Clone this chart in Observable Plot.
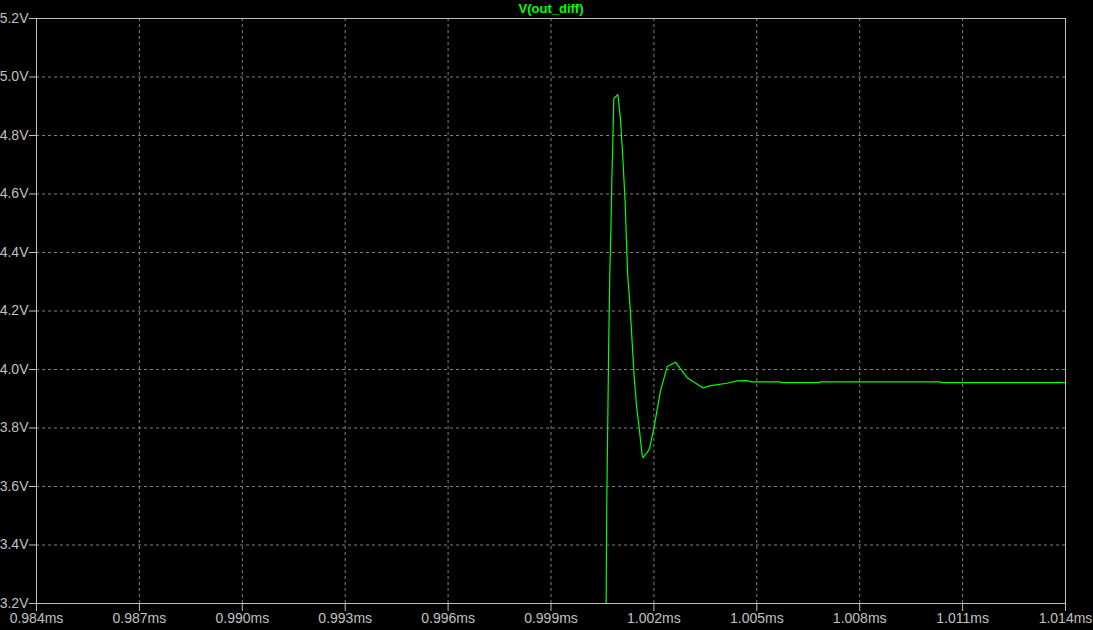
<!DOCTYPE html>
<html>
<head>
<meta charset="utf-8">
<script src="https://cdn.jsdelivr.net/npm/d3@7"></script>
<script src="https://cdn.jsdelivr.net/npm/@observablehq/plot@0.6"></script>
<style>
  html, body { margin: 0; padding: 0; background: #000; }
  #chart { width: 1093px; height: 630px; }
</style>
</head>
<body>
<div id="chart"></div>
<script>
// Time (ms) and voltage (V)
const timeMs = [
  0.984, 1.00058, 1.000585, 1.000627, 1.000656, 1.000685, 1.000715, 1.000744,
  1.000773, 1.000802, 1.000831, 1.000948, 1.000969, 1.001028, 1.001094,
  1.001164, 1.001231, 1.001309, 1.001368, 1.001426, 1.001493, 1.001572,
  1.001659, 1.001683, 1.001843, 1.001881, 1.001998, 1.002193, 1.002388,
  1.002630, 1.002776, 1.002971, 1.003164, 1.003438, 1.003651, 1.004137,
  1.004429, 1.004720, 1.004817, 1.005691, 1.005700, 1.006828, 1.006840,
  1.010357, 1.010370, 1.012300, 1.014
];
const voltage = [
  2.8, 2.8, 2.8, 3.552, 3.832, 4.109, 4.332, 4.468,
  4.646, 4.776, 4.926, 4.940, 4.920, 4.851, 4.725,
  4.567, 4.332, 4.209, 4.089, 3.973, 3.877, 3.798,
  3.706, 3.699, 3.723, 3.734, 3.798, 3.928, 4.010,
  4.025, 4.002, 3.972, 3.957, 3.937, 3.945, 3.953,
  3.961, 3.962, 3.958, 3.958, 3.955, 3.955, 3.958,
  3.958, 3.955, 3.955, 3.955
];
const xTicks = [0.984, 0.987, 0.990, 0.993, 0.996, 0.999, 1.002, 1.005, 1.008, 1.011, 1.014];
const yTicks = [3.2, 3.4, 3.6, 3.8, 4.0, 4.2, 4.4, 4.6, 4.8, 5.0, 5.2];
const traceName = "V(out_diff)";

const data = timeMs.map((t, i) => ({t, v: voltage[i]}));
const green = "#00ff00";
const gray = "#c0c0c0";

const chart = Plot.plot({
  width: 1093,
  height: 630,
  marginLeft: 36,
  marginRight: 28,
  marginTop: 18,
  marginBottom: 27,
  style: {
    background: "#000",
    color: gray,
    fontFamily: "'Liberation Sans', Arial, sans-serif",
    fontSize: "14px"
  },
  x: {domain: [0.984, 1.014]},
  y: {domain: [3.2, 5.2]},
  marks: [
    Plot.gridX(xTicks, {stroke: "#808080", strokeOpacity: 1, strokeDasharray: "3,3"}),
    Plot.gridY(yTicks, {stroke: "#808080", strokeOpacity: 1, strokeDasharray: "3,3"}),
    Plot.axisX(xTicks, {
      tickSize: 8, tickPadding: 2, stroke: gray, fill: gray, label: null,
      tickFormat: d => d.toFixed(3) + "ms"
    }),
    Plot.axisY(yTicks, {
      tickSize: 7, tickPadding: 1, stroke: gray, fill: gray, label: null,
      tickFormat: d => d.toFixed(1) + "V"
    }),
    Plot.line(data, {x: "t", y: "v", stroke: green, strokeWidth: 1.2, clip: true}),
    Plot.frame({stroke: gray}),
    Plot.text([traceName], {
      frameAnchor: "top", lineAnchor: "top", dy: -15, fill: green, fontSize: 13, fontWeight: "bold"
    })
  ]
});
document.getElementById("chart").appendChild(chart);
</script>
</body>
</html>
